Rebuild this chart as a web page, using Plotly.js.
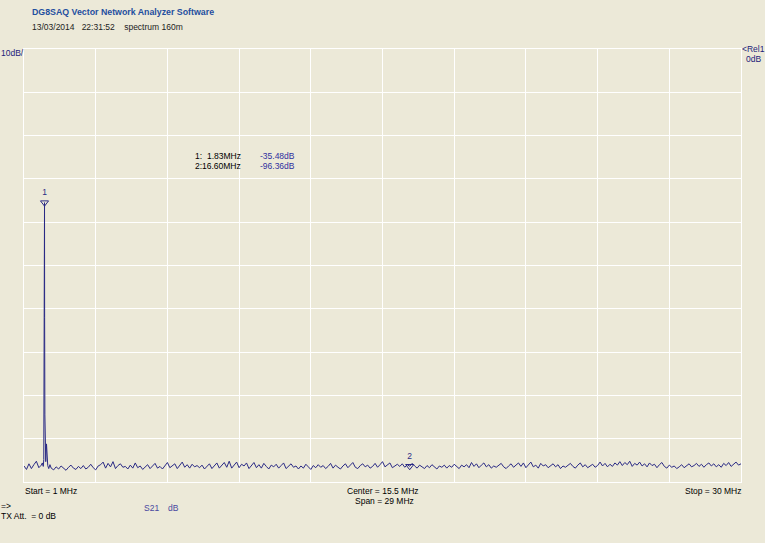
<!DOCTYPE html>
<html>
<head>
<meta charset="utf-8">
<script src="https://cdn.plot.ly/plotly-3.0.1.min.js"></script>
<style>
html,body{margin:0;padding:0;background:#ece9d8;}
#chart{width:765px;height:543px;}
</style>
</head>
<body>
<div id="chart"></div>
<script>
// ---- Sweep definition (MHz) ----
var sweepStart = 1.0;
var sweepStop = 30.0;
var sweepStep = 0.1;

// Noise floor before the carrier, 1.0 .. 1.7 MHz (dB)
var noiseLow = [-96.3,-97.1,-95.8,-96.9,-96.0,-95.2,-96.7,-96.1];

// Carrier region (detailed points)
var peakFreq = [1.74,1.78,1.80,1.81,1.82,1.83,1.835,1.845,1.86,1.88,1.91,1.93,1.96,2.00,2.05];
var peakDb   = [-95.6,-96.4,-94.8,-77.6,-50.0,-35.48,-62.0,-84.5,-89.6,-95.3,-91.2,-94.8,-96.2,-96.9,-96.0];

// Noise floor 2.1 .. 30.0 MHz (dB)
var noiseHigh = [
-96.8,-97.2,-96.5,-97.0,-96.3,-96.9,-97.3,-96.6,-96.1,-96.8,
-97.1,-96.4,-96.9,-96.2,-97.0,-96.6,-95.9,-96.7,-97.2,-96.3,
-96.0,-95.4,-96.8,-95.7,-96.5,-95.3,-96.9,-96.2,-95.8,-96.6,
-96.4,-97.0,-96.1,-96.8,-95.6,-96.7,-96.3,-97.1,-96.5,-96.0,
-96.9,-96.2,-95.7,-96.8,-96.4,-97.0,-96.1,-95.5,-96.7,-96.3,
-95.8,-96.9,-96.2,-95.4,-96.6,-96.0,-96.8,-95.9,-96.5,-96.2,
-96.7,-96.1,-97.0,-96.4,-95.8,-96.9,-96.3,-95.6,-96.8,-96.1,
-95.5,-96.6,-95.2,-96.8,-96.0,-95.4,-96.7,-95.9,-96.3,-95.6,
-96.9,-96.2,-95.5,-96.7,-96.0,-96.8,-95.7,-96.4,-97.0,-96.1,
-96.5,-95.9,-96.8,-96.2,-95.6,-96.9,-96.4,-95.8,-96.6,-96.3,
-97.0,-96.3,-96.8,-95.9,-96.5,-97.1,-96.2,-96.7,-96.0,-96.6,
-96.2,-96.9,-96.4,-95.7,-96.8,-96.1,-96.6,-97.0,-96.3,-95.8,
-96.7,-96.0,-95.5,-96.6,-96.9,-96.2,-95.8,-96.5,-96.1,-96.8,
-96.4,-95.7,-96.6,-96.0,-95.3,-96.5,-96.1,-95.6,-96.7,-96.2,
-95.9,-96.4,-95.8,-96.6,-96.0,-96.36,-95.7,-96.3,-96.8,-96.1,
-96.5,-96.9,-96.2,-96.7,-96.0,-96.4,-97.0,-96.3,-96.6,-96.1,
-96.8,-96.2,-96.6,-95.9,-96.4,-96.9,-96.1,-96.5,-96.0,-96.7,
-95.5,-96.4,-95.8,-96.7,-96.1,-95.6,-96.5,-96.0,-96.8,-96.3,
-96.6,-96.1,-95.7,-96.5,-96.9,-96.3,-95.8,-96.6,-96.2,-95.6,
-96.4,-95.6,-96.7,-96.0,-95.4,-96.5,-96.1,-96.8,-95.7,-96.3,
-96.0,-96.7,-96.2,-95.8,-96.5,-96.0,-96.9,-96.3,-96.6,-96.1,
-95.7,-96.4,-96.8,-96.1,-95.6,-96.5,-96.0,-96.7,-96.3,-95.9,
-96.6,-96.2,-95.4,-96.3,-95.7,-96.5,-95.9,-96.4,-95.6,-96.1,
-95.3,-96.2,-95.5,-96.0,-95.2,-96.4,-95.7,-96.1,-95.4,-96.3,
-95.8,-96.5,-95.6,-96.2,-95.9,-96.7,-96.0,-95.5,-96.4,-96.8,
-96.1,-96.6,-96.3,-96.9,-96.5,-96.0,-96.7,-96.2,-95.8,-96.5,
-96.2,-95.7,-96.4,-95.9,-96.6,-96.0,-95.6,-96.3,-95.8,-96.5,
-96.0,-96.6,-95.7,-96.2,-95.5,-96.4,-96.0,-95.4,-96.1,-95.8
];
var noiseHighStart = 2.1;

// Markers
var markerLabels = ['1','2'];
var markerFreq = [1.83, 16.60];
var markerDb = [-35.48, -96.36];

// ---- Build trace ----
var fx = [], fy = [];
noiseLow.forEach(function(v,i){ fx.push(+(sweepStart + i*sweepStep).toFixed(3)); fy.push(v); });
peakFreq.forEach(function(f,i){ fx.push(f); fy.push(peakDb[i]); });
noiseHigh.forEach(function(v,i){ fx.push(+(noiseHighStart + i*sweepStep).toFixed(3)); fy.push(v); });

var F = '"Liberation Sans", Arial, sans-serif';
var FS = 8.5;
var navy = '#2a2a85';
var traces = [
  {x: fx, y: fy, type: 'scatter', mode: 'lines', line: {color: navy, width: 1}, hoverinfo: 'none'},
  {x: markerFreq, y: markerDb, type: 'scatter', mode: 'markers+text', text: markerLabels,
   textposition: 'top center', textfont: {family: F, size: FS, color: navy},
   marker: {symbol: 'triangle-down-open', size: 7, color: navy, line: {color: navy, width: 1}}, hoverinfo: 'none'}
];

// pixel -> paper helpers for text placement
var L = 24, R = 741, T = 49, B = 482;
function px(x){ return (x - L) / (R - L); }
function py(y){ return (B - y) / (B - T); }

function ann(text, x, y, xanchor, color, size, bold){
  return {text: bold ? '<b>'+text+'</b>' : text, xref: 'paper', yref: 'paper', x: px(x), y: py(y),
    xanchor: xanchor, yanchor: 'middle', showarrow: false,
    font: {family: F, size: size || FS, color: color || '#000'}};
}

var annotations = [
  ann('DG8SAQ Vector Network Analyzer Software', 30, 12, 'left', '#1f4f9f', 8.8, true),
  ann('13/03/2014 &nbsp; 22:31:52 &nbsp;&nbsp; spectrum 160m', 30, 27, 'left', '#222'),
  ann('10dB/', -1, 53, 'left', '#22227a'),
  ann('&lt;Rel1', 740, 49, 'left', '#22227a'),
  ann('0dB', 744, 59, 'left', '#22227a'),
  ann(markerLabels[0] + ':', 193, 156, 'left', '#000'),
  ann(markerFreq[0].toFixed(2) + 'MHz', 243, 156, 'right', '#000'),
  ann(markerDb[0].toFixed(2) + 'dB', 258, 156, 'left', '#3030a0'),
  ann(markerLabels[1] + ':', 193, 166, 'left', '#000'),
  ann(markerFreq[1].toFixed(2) + 'MHz', 243, 166, 'right', '#000'),
  ann(markerDb[1].toFixed(2) + 'dB', 258, 166, 'left', '#3030a0'),
  ann('Start = ' + sweepStart + ' MHz', 23, 491, 'left', '#000'),
  ann('Center = ' + ((sweepStart + sweepStop)/2) + ' MHz', 383, 491, 'center', '#000'),
  ann('Span = ' + (sweepStop - sweepStart) + ' MHz', 384, 501, 'center', '#000'),
  ann('Stop = ' + sweepStop + ' MHz', 743, 491, 'right', '#000'),
  ann('=&gt;', -1, 506, 'left', '#000'),
  ann('TX Att. &nbsp;= 0 dB', -1, 516, 'left', '#000'),
  ann('S21', 142, 508, 'left', '#4848a0'),
  ann('dB', 166, 508, 'left', '#4848a0')
];

var layout = {
  width: 765, height: 543,
  paper_bgcolor: '#ece9d8', plot_bgcolor: '#ece9d8',
  margin: {l: L, r: 765 - R, t: T, b: 543 - B, pad: 0},
  showlegend: false,
  xaxis: {range: [sweepStart, sweepStop], tick0: sweepStart, dtick: (sweepStop - sweepStart)/10,
    showgrid: true, gridcolor: '#ffffff', gridwidth: 1, zeroline: false, showticklabels: false,
    ticks: '', showline: true, linecolor: '#ffffff', linewidth: 1, mirror: true, fixedrange: true},
  yaxis: {range: [-100, 0], tick0: 0, dtick: 10,
    showgrid: true, gridcolor: '#ffffff', gridwidth: 1, zeroline: false, showticklabels: false,
    ticks: '', showline: true, linecolor: '#ffffff', linewidth: 1, mirror: true, fixedrange: true},
  annotations: annotations
};

Plotly.newPlot('chart', traces, layout, {displayModeBar: false, staticPlot: true});
</script>
</body>
</html>
